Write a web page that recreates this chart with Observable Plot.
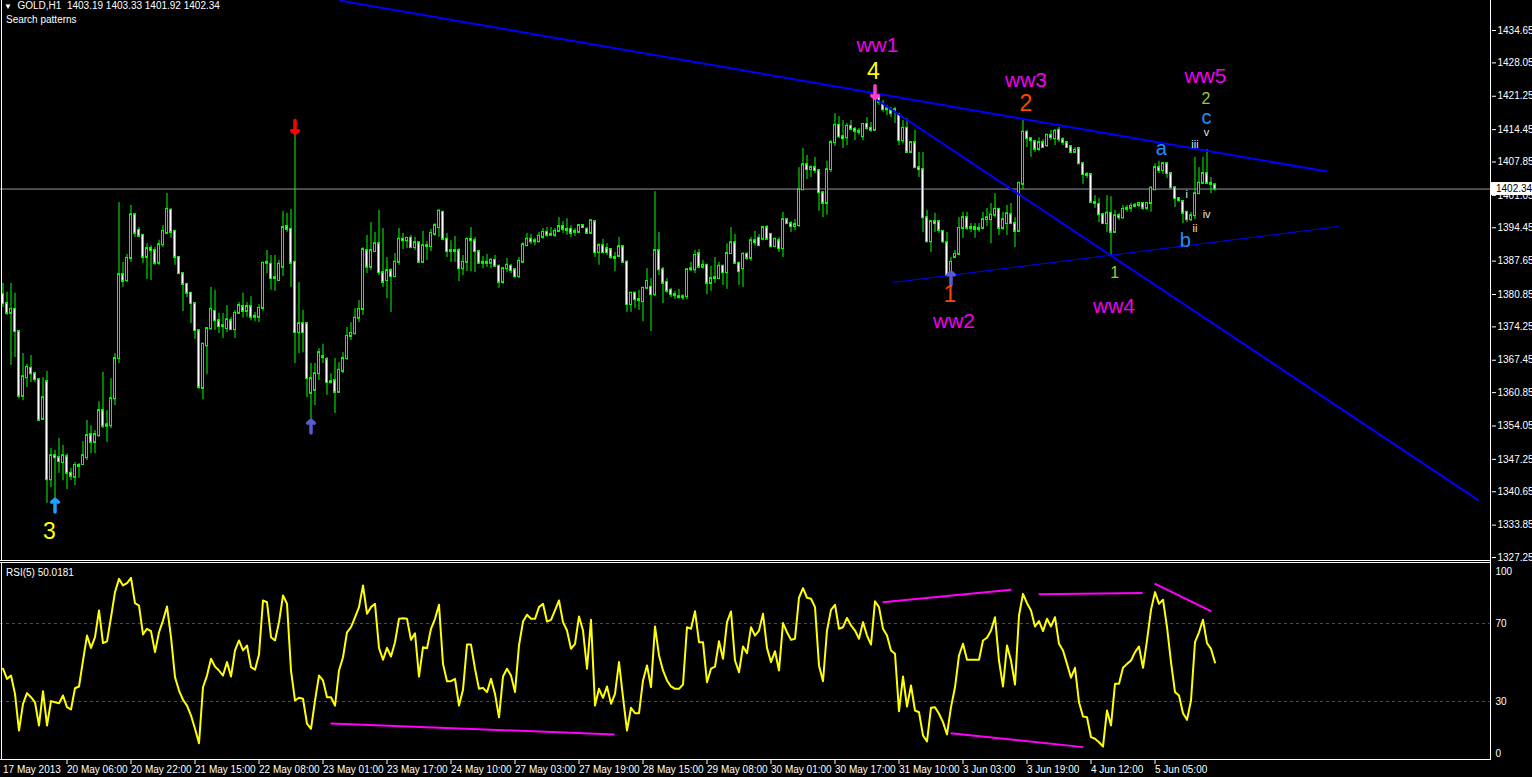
<!DOCTYPE html>
<html>
<head>
<meta charset="utf-8">
<script src="https://cdn.jsdelivr.net/npm/d3@7"></script>
<script src="https://cdn.jsdelivr.net/npm/@observablehq/plot@0.6"></script>
<style>
  html, body { margin:0; padding:0; background:#000; overflow:hidden; }
  #wrap { position:relative; width:1532px; height:777px; background:#000; }
  #main, #rsi { position:absolute; left:0; }
  #main { top:0; }
  #rsi { top:562px; }
  .lbl { position:absolute; color:#fff; font:10px "Liberation Sans", Arial, sans-serif; line-height:12px; white-space:pre; }
</style>
</head>
<body>
<div id="wrap">
  <div id="main"></div>
  <div id="rsi"></div>
  <div class="lbl" id="hdr" style="left:4px;top:0px"></div>
  <div class="lbl" style="left:6px;top:14px">Search patterns</div>
  <div class="lbl" id="rsiTitle" style="left:6px;top:567px"></div>
</div>
<script>
// ---------------- DATA (GOLD, H1) ----------------
const symbol = "GOLD,H1";
const open = [
1380.8,1379.0,1377.0,1377.8,1373.3,1360.1,1363.9,1365.8,1364.7,1363.5,
1355.4,1363.1,1343.1,1348.0,1347.6,1346.6,1347.8,1344.4,1343.6,1346.0,
1346.2,1347.6,1352.3,1350.7,1352.1,1357.2,1354.0,1354.1,1359.6,1367.8,
1384.9,1383.7,1388.2,1397.1,1393.9,1392.9,1388.4,1390.2,1389.8,1387.2,
1391.0,1393.3,1398.0,1393.7,1388.4,1385.1,1382.9,1381.1,1379.0,1373.5,
1361.7,1370.4,1373.9,1377.4,1375.5,1374.3,1373.9,1375.5,1373.7,1377.0,
1378.4,1377.4,1378.4,1376.2,1376.2,1378.0,1387.2,1387.0,1384.1,1383.7,
1386.4,1394.7,1394.1,1387.4,1373.1,1374.9,1374.9,1360.7,1361.3,1364.7,
1368.0,1367.6,1362.9,1363.3,1360.9,1365.2,1367.8,1372.3,1372.9,1376.0,
1377.8,1389.8,1386.4,1389.6,1391.2,1385.3,1383.7,1385.7,1384.5,1387.4,
1392.1,1391.8,1392.3,1390.4,1391.4,1387.4,1390.8,1390.6,1393.1,1394.5,
1397.6,1392.1,1389.6,1389.8,1389.8,1386.1,1387.4,1392.1,1391.8,1389.6,
1387.2,1387.4,1387.2,1387.8,1386.6,1383.3,1386.1,1386.6,1385.9,1384.5,
1387.4,1390.8,1392.1,1391.6,1391.6,1392.5,1393.5,1392.9,1392.9,1393.7,
1394.7,1394.1,1394.1,1393.5,1393.5,1394.9,1394.1,1393.3,1395.7,1389.4,
1390.8,1390.2,1390.0,1388.4,1388.6,1390.6,1387.4,1378.8,1381.1,1379.8,
1379.4,1382.1,1382.3,1380.8,1389.8,1385.9,1383.3,1381.7,1380.8,1380.4,
1380.2,1380.4,1385.9,1385.9,1389.2,1386.4,1386.8,1383.1,1384.1,1384.1,
1386.6,1385.3,1389.2,1391.4,1387.2,1386.1,1389.0,1388.2,1391.8,1392.3,
1392.1,1394.5,1393.1,1390.6,1391.8,1390.2,1396.1,1395.3,1394.7,1394.9,
1402.2,1407.3,1406.3,1406.7,1406.1,1401.6,1399.4,1406.3,1411.8,1415.3,
1413.0,1412.8,1415.1,1414.5,1414.1,1413.0,1415.5,1414.7,1414.3,1421.4,
1419.6,1418.5,1418.3,1418.1,1417.5,1412.2,1414.7,1409.8,1411.8,1406.7,
1406.3,1396.5,1391.6,1395.7,1395.7,1393.7,1391.4,1384.9,1388.4,1389.0,
1394.3,1396.5,1394.3,1394.5,1394.1,1394.3,1396.1,1396.1,1397.0,1398.2,
1394.3,1395.3,1397.1,1395.3,1393.7,1403.3,1413.9,1412.6,1412.0,1410.4,
1411.8,1411.2,1413.3,1412.6,1414.3,1412.4,1411.8,1411.0,1409.8,1410.6,
1407.5,1405.3,1405.3,1399.6,1399.2,1397.1,1395.3,1397.4,1393.5,1396.9,
1396.5,1398.2,1398.4,1398.8,1399.0,1399.4,1398.4,1399.4,1402.2,1406.7,
1406.1,1407.5,1405.5,1402.6,1400.4,1399.8,1397.6,1396.1,1396.9,1401.4,
1403.5,1405.5,1403.5,1403.19];
const high = [
1383.1,1381.3,1383.1,1381.1,1373.5,1368.8,1366.6,1368.4,1365.0,1363.7,
1363.9,1365.2,1349.5,1349.1,1351.5,1350.1,1348.4,1345.4,1346.6,1346.4,
1350.9,1355.2,1354.1,1353.1,1359.0,1365.0,1357.2,1363.7,1368.8,1399.6,
1387.4,1389.0,1399.0,1397.3,1394.5,1392.9,1391.2,1390.8,1390.4,1391.9,
1394.9,1401.4,1398.4,1393.9,1388.6,1385.1,1382.9,1381.1,1379.2,1373.5,
1370.9,1373.9,1382.3,1381.7,1377.0,1377.0,1378.6,1376.2,1377.6,1379.2,
1381.1,1379.2,1380.4,1377.2,1378.8,1387.4,1389.8,1388.8,1388.8,1387.8,
1397.8,1397.4,1398.2,1414.5,1383.3,1377.6,1375.1,1366.8,1366.8,1369.8,
1370.7,1368.0,1364.7,1367.8,1367.0,1369.0,1374.1,1375.1,1378.0,1379.6,
1390.4,1392.9,1395.5,1393.5,1398.0,1394.3,1388.4,1386.1,1389.2,1394.3,
1393.3,1392.3,1392.9,1392.5,1391.4,1393.7,1391.6,1394.1,1395.3,1398.2,
1397.6,1393.3,1391.8,1392.7,1390.2,1388.8,1392.3,1394.5,1392.5,1389.8,
1388.6,1389.0,1388.2,1388.8,1386.8,1386.4,1388.2,1387.0,1386.1,1388.4,
1391.4,1393.3,1393.1,1392.3,1393.5,1394.3,1394.5,1394.5,1394.3,1396.5,
1395.7,1396.3,1394.9,1394.3,1395.1,1395.1,1394.5,1395.9,1395.9,1391.2,
1392.1,1391.2,1390.2,1389.4,1392.5,1390.8,1387.8,1381.3,1381.3,1381.7,
1382.3,1386.1,1384.1,1401.8,1393.5,1386.4,1384.1,1382.1,1381.5,1381.9,
1380.8,1386.1,1387.4,1389.8,1390.0,1387.8,1387.0,1386.6,1388.4,1387.4,
1386.8,1391.2,1394.5,1393.1,1387.4,1389.4,1389.4,1392.5,1393.7,1393.1,
1394.7,1394.9,1393.3,1392.3,1392.5,1397.6,1396.3,1395.7,1396.1,1406.7,
1410.6,1409.2,1407.1,1408.8,1406.3,1401.6,1408.0,1412.2,1417.7,1417.1,
1416.3,1415.7,1416.3,1414.9,1414.7,1415.7,1416.9,1415.9,1423.0,1421.4,
1420.4,1419.4,1419.0,1419.0,1417.7,1416.3,1416.7,1412.0,1414.3,1409.8,
1409.8,1398.0,1395.9,1397.4,1395.9,1393.9,1393.5,1388.4,1389.8,1396.5,
1397.6,1397.6,1395.3,1395.3,1395.3,1397.6,1398.4,1399.4,1401.4,1398.2,
1397.6,1399.0,1399.4,1396.5,1403.7,1416.7,1414.3,1412.8,1412.2,1412.8,
1412.4,1413.3,1414.3,1414.5,1414.9,1412.8,1412.0,1411.2,1410.8,1410.8,
1407.5,1405.7,1405.5,1401.0,1400.4,1397.4,1401.0,1400.8,1398.0,1397.4,
1399.0,1399.0,1399.4,1399.4,1399.6,1399.6,1399.6,1402.8,1407.5,1408.0,
1407.7,1407.7,1405.7,1402.8,1400.6,1400.0,1397.6,1397.6,1408.8,1406.7,
1408.8,1410.4,1404.7,1403.33];
const low = [
1378.2,1376.6,1366.4,1368.0,1359.6,1359.2,1361.9,1362.9,1362.9,1355.0,
1355.2,1338.3,1341.5,1338.9,1344.4,1342.9,1341.1,1342.9,1341.9,1343.4,
1346.0,1347.0,1348.4,1348.4,1351.7,1353.5,1350.7,1353.5,1358.2,1366.8,
1382.3,1383.3,1387.4,1392.5,1392.5,1387.2,1383.9,1383.7,1386.8,1386.8,
1390.4,1393.3,1392.3,1386.8,1385.1,1377.4,1380.2,1374.9,1371.7,1361.5,
1359.4,1364.5,1373.5,1373.5,1372.9,1371.9,1373.1,1373.5,1371.9,1377.0,
1376.0,1376.2,1375.5,1375.3,1375.1,1377.4,1385.1,1381.7,1381.5,1383.7,
1384.5,1393.5,1382.3,1366.8,1368.8,1369.0,1359.8,1353.1,1358.2,1363.3,
1366.8,1360.3,1362.7,1356.6,1360.7,1364.7,1367.4,1371.5,1372.5,1375.1,
1376.6,1385.1,1385.7,1389.4,1384.7,1382.3,1380.0,1377.2,1384.3,1386.8,
1390.0,1390.2,1390.2,1389.8,1387.2,1387.4,1387.8,1389.6,1392.7,1392.5,
1391.8,1388.4,1387.4,1387.4,1383.5,1384.7,1385.5,1385.5,1385.3,1387.2,
1386.1,1386.4,1386.1,1386.4,1382.1,1382.9,1385.3,1385.1,1384.1,1384.1,
1387.4,1390.6,1391.0,1390.8,1391.4,1392.1,1392.5,1392.7,1392.5,1393.5,
1393.3,1392.9,1392.5,1392.7,1393.5,1394.3,1393.1,1393.3,1388.4,1386.8,
1389.4,1388.8,1388.0,1385.5,1388.4,1387.2,1377.2,1377.2,1378.0,1377.6,
1375.3,1382.1,1373.3,1380.4,1384.7,1379.0,1381.1,1380.2,1379.8,1380.0,
1379.6,1379.8,1385.5,1385.1,1386.1,1386.0,1380.8,1381.5,1383.1,1383.9,
1382.7,1381.9,1389.0,1387.0,1382.7,1382.3,1387.8,1387.6,1390.8,1390.8,
1391.8,1392.1,1390.4,1390.4,1389.4,1388.4,1395.1,1393.5,1393.9,1394.5,
1402.0,1404.3,1404.7,1405.5,1397.8,1396.5,1397.0,1405.7,1411.0,1412.6,
1410.6,1411.2,1414.3,1412.2,1413.3,1412.2,1414.3,1413.9,1414.3,1419.4,
1418.0,1417.3,1416.9,1415.7,1411.2,1411.6,1409.6,1409.6,1406.7,1404.7,
1393.5,1391.4,1389.4,1393.5,1393.3,1391.2,1384.5,1384.1,1388.2,1389.0,
1392.3,1393.9,1393.5,1392.3,1393.5,1394.3,1394.7,1391.2,1396.5,1392.9,
1393.9,1392.9,1395.3,1390.4,1393.7,1402.2,1410.8,1408.8,1409.8,1410.0,
1410.6,1410.8,1412.2,1411.2,1411.8,1411.2,1410.6,1409.6,1409.8,1407.3,
1403.3,1404.5,1399.4,1398.4,1395.5,1395.3,1393.5,1388.8,1393.3,1395.9,
1396.1,1397.6,1397.6,1398.6,1398.6,1398.0,1398.0,1397.6,1402.0,1405.5,
1405.3,1404.5,1402.6,1398.6,1399.6,1395.3,1395.5,1395.7,1396.1,1401.4,
1403.3,1403.3,1401.4,1401.92];
const close = [
1379.0,1377.0,1377.8,1373.3,1360.1,1364.1,1366.0,1364.7,1363.5,1355.2,
1359.8,1343.1,1348.0,1347.6,1346.8,1348.0,1344.4,1343.8,1346.0,1345.8,
1348.0,1352.1,1350.7,1352.3,1357.2,1354.0,1354.3,1359.6,1367.8,1384.9,
1383.5,1388.2,1397.1,1393.3,1392.7,1388.4,1390.2,1389.8,1387.2,1391.0,
1393.7,1398.2,1393.5,1388.4,1385.1,1382.9,1381.1,1379.0,1373.5,1361.9,
1370.7,1373.9,1377.8,1375.5,1374.3,1374.5,1375.7,1373.7,1377.0,1378.6,
1377.4,1378.4,1376.2,1376.4,1378.0,1387.2,1387.4,1384.1,1384.3,1387.0,
1394.5,1394.1,1387.2,1373.1,1374.9,1373.1,1363.7,1363.7,1364.7,1369.0,
1368.2,1362.9,1363.1,1360.9,1365.4,1367.8,1372.3,1372.9,1376.0,1377.8,
1390.0,1386.4,1389.8,1391.2,1385.3,1383.3,1385.7,1384.5,1387.4,1392.1,
1391.8,1392.3,1390.4,1391.4,1387.4,1390.8,1390.6,1393.3,1394.9,1397.8,
1392.1,1389.6,1389.8,1389.6,1386.1,1387.4,1392.1,1391.8,1389.6,1387.2,
1387.4,1387.2,1387.8,1386.6,1383.3,1386.1,1386.8,1385.7,1384.5,1387.6,
1391.0,1392.1,1391.6,1391.8,1392.7,1393.5,1392.9,1393.1,1393.7,1394.7,
1394.1,1393.9,1393.3,1393.7,1394.9,1394.5,1393.3,1395.9,1389.4,1390.8,
1389.4,1389.4,1388.4,1388.2,1390.6,1387.4,1378.8,1381.1,1379.8,1379.6,
1382.1,1383.5,1380.8,1389.8,1385.9,1383.1,1381.5,1380.8,1380.6,1380.2,
1380.4,1385.9,1386.1,1388.8,1386.4,1386.8,1383.1,1384.1,1384.3,1386.6,
1385.3,1389.2,1391.4,1387.2,1385.5,1389.0,1388.2,1391.8,1391.4,1390.8,
1394.5,1392.1,1390.6,1392.1,1390.2,1396.1,1395.3,1394.7,1395.1,1402.2,
1407.3,1406.3,1406.7,1406.1,1401.6,1399.4,1406.3,1411.8,1415.3,1413.0,
1412.6,1415.1,1414.5,1414.1,1413.9,1415.5,1414.7,1414.3,1421.8,1420.0,
1418.5,1418.7,1417.7,1418.5,1412.2,1414.7,1409.8,1411.8,1406.7,1406.3,
1396.5,1391.6,1395.7,1395.3,1393.9,1391.6,1384.7,1387.4,1389.0,1394.3,
1396.5,1394.3,1394.5,1394.1,1394.3,1396.1,1396.5,1397.0,1398.2,1394.3,
1396.1,1397.3,1395.3,1393.7,1403.5,1413.9,1412.6,1412.2,1410.4,1411.8,
1410.8,1413.3,1412.8,1414.1,1412.4,1411.8,1410.8,1409.8,1410.2,1407.5,
1405.3,1405.1,1399.6,1399.4,1397.1,1395.3,1397.4,1393.5,1396.9,1396.5,
1398.2,1398.4,1398.8,1399.0,1399.4,1398.4,1399.4,1402.5,1406.7,1406.1,
1407.5,1405.5,1402.6,1400.4,1400.0,1397.4,1396.1,1396.9,1401.4,1403.5,
1405.5,1403.5,1403.3,1402.34];
const rsi = [
46.8,41.6,43.3,33.9,15.1,28.8,34.3,32.2,29.6,17.7,
35.3,17.7,30.2,29.6,29.1,33.1,27.1,25.9,36.8,37.7,
51.0,63.8,57.5,63.0,76.7,59.9,60.8,73.2,86.1,92.9,
89.5,90.7,93.4,80.4,79.2,64.4,67.3,66.1,55.3,65.5,
71.5,78.7,63.0,42.5,35.6,30.9,27.9,22.8,16.0,8.6,
37.3,43.3,51.9,47.9,45.9,43.3,50.2,42.8,56.2,61.3,
56.2,58.7,47.6,46.3,54.1,81.8,80.9,63.0,61.3,70.7,
84.4,80.1,45.9,30.5,31.9,31.4,18.6,16.0,30.5,43.3,
40.8,32.2,32.2,27.9,45.9,52.7,65.5,68.1,73.2,78.4,
89.5,75.0,78.4,80.1,57.5,51.4,57.5,53.1,60.4,72.4,
72.7,72.4,61.6,65.0,42.8,57.8,57.3,67.3,72.4,79.6,
49.3,40.4,40.4,41.6,27.9,36.0,59.2,59.2,46.8,36.5,
37.0,34.8,41.6,33.9,21.9,42.8,46.8,43.3,34.8,58.7,
71.0,74.5,72.4,72.4,78.4,80.1,71.0,71.9,76.7,81.8,
70.7,66.4,57.0,59.6,73.6,66.4,46.8,71.9,27.9,36.5,
31.9,37.7,28.8,33.9,50.2,32.2,15.1,26.8,24.0,24.0,
40.8,48.5,37.3,68.5,53.6,45.9,40.8,37.7,36.5,36.5,
38.7,68.1,67.3,76.3,60.4,60.4,39.9,46.8,47.9,60.9,
51.9,70.7,76.2,51.0,45.0,58.2,54.8,68.1,63.8,66.4,
75.0,57.5,50.2,55.8,45.9,70.2,65.5,61.6,62.2,83.2,
88.1,83.2,82.7,78.4,48.5,40.4,66.4,77.0,79.6,67.3,
68.1,72.9,69.0,66.4,62.2,70.7,63.8,59.2,81.4,78.4,
67.3,63.8,56.2,54.5,25.0,42.8,27.4,38.2,25.4,24.5,
12.6,9.5,26.8,27.1,23.7,19.4,13.1,27.1,37.3,53.6,
59.6,51.4,51.4,51.4,51.4,61.3,62.7,66.4,73.2,51.0,
37.7,58.7,51.0,38.7,74.1,85.2,80.4,76.7,68.5,71.2,
66.1,72.4,68.5,73.2,59.6,56.2,49.3,42.2,47.3,29.6,
22.3,21.9,11.7,10.9,9.1,6.9,25.4,17.7,39.1,39.1,
47.3,49.3,51.0,55.3,58.2,47.3,61.3,77.0,86.1,80.1,
82.2,68.1,50.2,34.8,33.1,24.0,20.6,30.5,60.4,65.5,
71.9,59.9,57.0,50.0181];

// price axis & time axis tick labels
const priceTicks = [1434.65,1428.05,1421.25,1414.45,1407.85,1401.05,1394.45,1387.65,1380.85,1374.25,1367.45,1360.85,1354.05,1347.25,1340.65,1333.85,1327.25];
const firstDateLabel = "17 May 2013";
const dateTickBars = [16,32,48,64,80,96,112,128,144,160,176,192,208,224,240,256,272,288];
const dateTickLabels = ["20 May 06:00","20 May 22:00","21 May 15:00","22 May 08:00","23 May 01:00","23 May 17:00","24 May 10:00","27 May 03:00","27 May 19:00","28 May 15:00","29 May 08:00","30 May 01:00","30 May 17:00","31 May 10:00","3 Jun 03:00","3 Jun 19:00","4 Jun 12:00","5 Jun 05:00"];
const rsiLevels = [30, 70];
const rsiAxisLabels = [100, 70, 30, 0];

// trend lines (bar index, price)
const trendFromBar = [84.1, 217.6, 222.6];
const trendFromPrice = [1440.76, 1421.0, 1383.3];
const trendToBar = [331.1, 368.9, 333.9];
const trendToPrice = [1405.9, 1338.9, 1394.7];
const trendWeight = ["thick", "thick", "thin"];

// RSI divergence lines (bar index, RSI)
const divFromBar = [81.9, 219.9, 258.9, 287.9, 236.9];
const divFromRsi = [18.7, 80.9, 85.0, 90.4, 13.7];
const divToBar = [152.9, 252.1, 284.9, 302.1, 270.1];
const divToRsi = [13.1, 87.3, 85.7, 76.2, 6.6];

// Elliott wave labels (bar index, price)
const labelText = ["3","ww1","4","ww3","2","ww5","2","c","v","iii","a","i","iv","ii","b","1","ww2","1","ww4"];
const labelBar = [11.6,218.6,217.6,255.75,255.75,300.6,300.75,300.9,300.9,298,289.6,295.9,300.9,298,295.6,236.75,237.75,277.9,277.75];
const labelPrice = [1332.5,1431.7,1426.3,1424.5,1419.8,1425.4,1420.8,1416.8,1413.8,1411.5,1410.6,1401.2,1397.2,1394.4,1391.9,1380.9,1375.4,1385.2,1378.5];
const labelDegree = ["primary","ww","primary","ww","intermediate","ww","minor","minute","minuette","minuette","minute","minuette","minuette","minuette","minute","intermediate","ww","minor","ww"];

// signal arrows (bar index, tip price)
const arrowBar = [13, 73, 77, 218, 237];
const arrowPrice = [1339.1, 1413.7, 1355.2, 1420.8, 1385.4];
const arrowDir = ["up","down","up","down","up"];
const arrowSignal = ["buy3","sell","buy","sellTop","buy"];

// ---------------- STYLES ----------------
const degreeStyle = {
  ww: {fill: "#f000f0", size: 21},
  primary: {fill: "#ffff00", size: 23},
  intermediate: {fill: "#ff4500", size: 23},
  minor: {fill: "#9acd32", size: 16},
  minute: {fill: "#1e90ff", size: 20},
  minuette: {fill: "#e6e6e6", size: 11}
};
const arrowColor = {buy3: "#1ea0ff", sell: "#ff0000", buy: "#5a5ad2", sellTop: "#ff3cc8"};
const trendWidth = {thick: 2, thin: 1};
const font = "'Liberation Sans', Arial, sans-serif";

// ---------------- BUILD ----------------
const N = open.length;
const last = N - 1;
const bars = d3.range(N).map(i => ({i, o: open[i], h: high[i], l: low[i], c: close[i]}));
const W = 1532, MR = 41;
const xOpt = {type: "linear", domain: [0, N - 1], range: [2.5, 2.5 + 4 * (N - 1)]};
const ARROW_SPAN = 2.6;

document.getElementById("hdr").innerHTML =
  '<span style="font-size:8px">\u25BC</span>  ' + symbol + "  " +
  [open[last], high[last], low[last], close[last]].map(v => v.toFixed(2)).join(" ");
document.getElementById("rsiTitle").textContent = "RSI(5) " + rsi[last].toFixed(4);

const labels = labelText.map((t, j) => ({t, x: labelBar[j], y: labelPrice[j], d: labelDegree[j]}));
const arrows = arrowBar.map((b, j) => ({b, p: arrowPrice[j], dir: arrowDir[j], sig: arrowSignal[j]}));
const trends = trendFromBar.map((b, j) => ({x1: b, y1: trendFromPrice[j], x2: trendToBar[j], y2: trendToPrice[j], w: trendWeight[j]}));
const divs = divFromBar.map((b, j) => ({x1: b, y1: divFromRsi[j], x2: divToBar[j], y2: divToRsi[j]}));

const mainPlot = Plot.plot({
  width: W, height: 562,
  marginLeft: 0, marginRight: MR, marginTop: 0, marginBottom: 0,
  style: {background: "#000", color: "#fff", fontFamily: font, fontSize: "10px", overflow: "visible"},
  x: {...xOpt, axis: null},
  y: {domain: [1327.25, 1434.65], range: [557, 30]},
  marks: [
    Plot.ruleY([close[last]], {stroke: "#8f98a0", strokeWidth: 1}),
    Plot.ruleX(bars, {x: "i", y1: "l", y2: "h", stroke: "#00ff00", strokeWidth: 1}),
    Plot.rect(bars, {x1: d => d.i - 0.25, x2: d => d.i + 0.25, y1: "o", y2: "c",
      insetTop: -0.5, insetBottom: -0.5,
      fill: d => d.c < d.o ? "#ffffff" : "#000000", stroke: "#00ff00", strokeWidth: 1}),
    ...Object.entries(trendWidth).map(([k, w]) =>
      Plot.link(trends.filter(d => d.w === k), {x1: "x1", y1: "y1", x2: "x2", y2: "y2", stroke: "#0000ff", strokeWidth: w})),
    ...Object.entries(arrowColor).map(([k, col]) =>
      Plot.arrow(arrows.filter(d => d.sig === k), {
        x1: "b", x2: "b",
        y1: d => d.dir === "up" ? d.p - ARROW_SPAN : d.p + ARROW_SPAN, y2: "p",
        stroke: col, strokeWidth: 3.5, headLength: 6, headAngle: 100})),
    ...Object.entries(degreeStyle).map(([k, s]) =>
      Plot.text(labels.filter(d => d.d === k), {x: "x", y: "y", text: "t", fill: s.fill, fontSize: s.size, fontFamily: font})),
    Plot.axisY({anchor: "right", ticks: priceTicks, tickFormat: d => d.toFixed(2), tickSize: 4, tickPadding: 2, fontSize: 10, fontFamily: font})
  ]
});
document.getElementById("main").appendChild(mainPlot);

const rsiPlot = Plot.plot({
  width: W, height: 215,
  marginLeft: 0, marginRight: MR, marginTop: 0, marginBottom: 17,
  style: {background: "#000", color: "#fff", fontFamily: font, fontSize: "10px", overflow: "visible"},
  x: {...xOpt},
  y: {domain: [0, 100], range: [197.5, 2.5], axis: null},
  marks: [
    Plot.ruleY(rsiLevels, {stroke: "#4c4c4c", strokeDasharray: "3,3"}),
    Plot.line(rsi, {x: (d, i) => i, y: d => d, stroke: "#ffff00", strokeWidth: 2}),
    Plot.link(divs, {x1: "x1", y1: "y1", x2: "x2", y2: "y2", stroke: "#ff00ff", strokeWidth: 2}),
    Plot.text(rsiAxisLabels.filter(v => v > 0 && v < 100), {y: d => d, text: d => String(d), frameAnchor: "right", dx: 4, textAnchor: "start", fill: "#fff"}),
    Plot.text(rsiAxisLabels.filter(v => v === 100), {y: d => d, text: d => String(d), frameAnchor: "right", dx: 4, dy: 6.5, textAnchor: "start", fill: "#fff"}),
    Plot.text(rsiAxisLabels.filter(v => v === 0), {y: d => d, text: d => String(d), frameAnchor: "right", dx: 4, dy: -6.5, textAnchor: "start", fill: "#fff"}),
    Plot.axisX({anchor: "bottom", ticks: dateTickBars, tickFormat: d => dateTickLabels[dateTickBars.indexOf(d)],
      tickSize: 4, tickPadding: 1, textAnchor: "start", fontSize: 10, fontFamily: font}),
    Plot.text([0], {x: d => d, text: () => firstDateLabel, frameAnchor: "bottom", dy: 5, lineAnchor: "top", textAnchor: "start", fill: "#fff"})
  ]
});
document.getElementById("rsi").appendChild(rsiPlot);

// panel borders
function line(svg, x1, y1, x2, y2) {
  d3.select(svg).append("line").attr("x1", x1).attr("y1", y1).attr("x2", x2).attr("y2", y2)
    .attr("stroke", "#fff").attr("stroke-width", 1);
}
const R = W - MR - 0.5;
line(mainPlot, 1.5, 0, 1.5, 561);
line(mainPlot, R, 0, R, 562);
line(mainPlot, 0, 560.5, R, 560.5);
line(rsiPlot, 0, 0.5, R, 0.5);
line(rsiPlot, 1.5, 0, 1.5, 198);
line(rsiPlot, R, 0, R, 198);
line(rsiPlot, 0, 197.5, R, 197.5);

// current price box on the price axis
const yc = mainPlot.scale("y").apply(close[last]);
d3.select(mainPlot).append("rect").attr("x", W - MR).attr("y", yc - 6.5).attr("width", MR).attr("height", 13).attr("fill", "#fff");
d3.select(mainPlot).append("text").attr("x", W - MR + 5).attr("y", yc).attr("dy", "0.35em")
  .attr("text-anchor", "start")
  .attr("fill", "#000").attr("font-size", 10).attr("font-family", font).text(close[last].toFixed(2));
</script>
</body>
</html>
